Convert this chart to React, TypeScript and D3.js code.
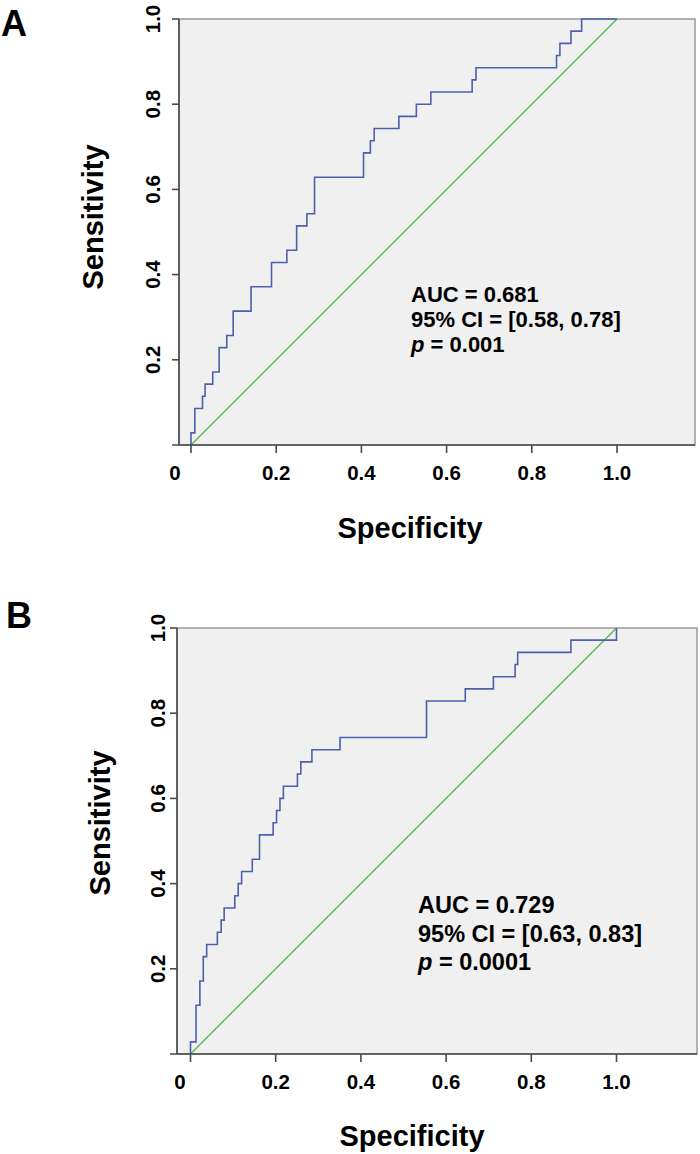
import React from 'react';
import * as d3 from 'd3';

// ---- data ----
const TICK_VALUES = [0, 0.2, 0.4, 0.6, 0.8, 1.0];
const TICK_LABELS = ['0', '0.2', '0.4', '0.6', '0.8', '1.0'];
const N_POSITIVE = 35;

// Panel A: ROC step corners (x = 1 - specificity, y = true positives count out of 35)
const fprA = [0, 0, 0.009, 0.027, 0.033, 0.051, 0.066, 0.084, 0.099, 0.141, 0.189, 0.225, 0.248, 0.272, 0.29, 0.405, 0.421, 0.43, 0.488, 0.529, 0.563, 0.66, 0.669, 0.858, 0.866, 0.892, 0.917, 1.0];
const tpA = [0, 1, 3, 4, 5, 6, 8, 9, 11, 13, 15, 16, 18, 19, 22, 24, 25, 26, 27, 28, 29, 30, 31, 32, 33, 34, 35, 35];
const statsA = ['AUC = 0.681', '95% CI = [0.58, 0.78]', '0.001'];

// Panel B
const fprB = [0, 0, 0.013, 0.022, 0.03, 0.038, 0.063, 0.072, 0.079, 0.104, 0.112, 0.12, 0.145, 0.162, 0.194, 0.202, 0.21, 0.218, 0.251, 0.259, 0.285, 0.351, 0.554, 0.645, 0.711, 0.762, 0.768, 0.893, 1.0, 1.0];
const tpB = [0, 1, 4, 6, 8, 9, 10, 11, 12, 13, 14, 15, 16, 18, 19, 20, 21, 22, 23, 24, 25, 26, 29, 30, 31, 32, 33, 34, 34, 35];
const statsB = ['AUC = 0.729', '95% CI = [0.63, 0.83]', '0.0001'];

const X_TITLE = 'Specificity';
const Y_TITLE = 'Sensitivity';

const FONT = '"Liberation Sans", Arial, Helvetica, sans-serif';
const BLUE = '#4e60ac';
const GREEN = '#55b955';

type Layout = {
  left: number; right: number; top: number; bottom: number;
  x0: number; x1: number;
  label: string; labelX: number; labelY: number; labelSize: number;
  statX: number; statY: number; statGap: number; statSize: number;
  yTitleX: number; yTitleY: number; xTitleX: number;
  yTickX: number; xTickY: number; xTitleY: number; zeroX: number;
};

function Panel({ fpr, tp, stats, L }: { fpr: number[]; tp: number[]; stats: string[]; L: Layout }) {
  const x = d3.scaleLinear().domain([0, 1]).range([L.x0, L.x1]);
  const y = d3.scaleLinear().domain([0, 1]).range([L.bottom, L.top]);
  const pts: [number, number][] = fpr.map((f, i) => [f, tp[i] / N_POSITIVE]);
  const line = d3.line<[number, number]>()
    .x(d => x(d[0]))
    .y(d => y(d[1]))
    .curve(d3.curveStepAfter);
  const diag = d3.line<[number, number]>().x(d => x(d[0])).y(d => y(d[1]));
  const axisColor = '#4a4a4a';
  return (
    <g>
      <text x={L.labelX} y={L.labelY} fontFamily={FONT} fontWeight="bold" fontSize={L.labelSize} fill="#000">{L.label}</text>
      <rect x={L.left} y={L.top} width={L.right - L.left} height={L.bottom - L.top} fill="#f0f0f0" stroke="#8a8a8a" strokeWidth={1.3} />
      <clipPath id={'clip' + L.label}>
        <rect x={L.left} y={L.top - 1} width={L.right - L.left} height={L.bottom - L.top + 1} />
      </clipPath>
      <g clipPath={`url(#clip${L.label})`}>
        <path d={diag([[0, 0], [1, 1]]) || ''} fill="none" stroke={GREEN} strokeWidth={1.4} />
        <path d={line(pts) || ''} fill="none" stroke={BLUE} strokeWidth={1.6} />
      </g>
      {/* axes */}
      <line x1={L.left} x2={L.left} y1={L.top} y2={L.bottom} stroke={axisColor} strokeWidth={1.6} />
      <line x1={L.left - 7} x2={L.right} y1={L.bottom} y2={L.bottom} stroke={axisColor} strokeWidth={1.6} />
      {TICK_VALUES.filter(v => v > 0).map(v => (
        <line key={'yt' + v} x1={L.left - 7} x2={L.left} y1={y(v)} y2={y(v)} stroke={axisColor} strokeWidth={1.6} />
      ))}
      {TICK_VALUES.map(v => (
        <line key={'xt' + v} x1={x(v)} x2={x(v)} y1={L.bottom} y2={L.bottom + 8} stroke={axisColor} strokeWidth={1.6} />
      ))}
      {TICK_VALUES.map((v, i) => v > 0 ? (
        <text key={'yl' + v} transform={`translate(${L.yTickX},${y(v)}) rotate(-90)`} textAnchor="middle"
          fontFamily={FONT} fontWeight="bold" fontSize={20.5} fill="#000">{TICK_LABELS[i]}</text>
      ) : null)}
      {TICK_VALUES.map((v, i) => (
        <text key={'xl' + v} x={v === 0 ? L.zeroX : x(v)} y={L.xTickY} textAnchor="middle"
          fontFamily={FONT} fontWeight="bold" fontSize={20.5} fill="#000">{TICK_LABELS[i]}</text>
      ))}
      <text x={L.xTitleX} y={L.xTitleY} textAnchor="middle" fontFamily={FONT} fontWeight="bold" fontSize={29} fill="#000">{X_TITLE}</text>
      <text transform={`translate(${L.yTitleX},${L.yTitleY}) rotate(-90)`} textAnchor="middle" fontFamily={FONT} fontWeight="bold" fontSize={29} fill="#000">{Y_TITLE}</text>
      <g fontFamily={FONT} fontWeight="bold" fontSize={L.statSize} fill="#000">
        <text x={L.statX} y={L.statY}>{stats[0]}</text>
        <text x={L.statX} y={L.statY + L.statGap}>{stats[1]}</text>
        <text x={L.statX} y={L.statY + 2 * L.statGap}><tspan fontStyle="italic">p</tspan> = {stats[2]}</text>
      </g>
    </g>
  );
}

const layoutA: Layout = {
  left: 179, right: 695, top: 19, bottom: 445, x0: 191, x1: 617,
  label: 'A', labelX: 1, labelY: 36, labelSize: 36,
  statX: 411, statY: 302, statGap: 25, statSize: 22,
  yTitleX: 103, yTitleY: 217, xTitleX: 410, yTickX: 160, xTickY: 480, xTitleY: 538, zeroX: 175,
};
const layoutB: Layout = {
  left: 177, right: 697, top: 628, bottom: 1054, x0: 190.5, x1: 616.5,
  label: 'B', labelX: 6, labelY: 628, labelSize: 36,
  statX: 418, statY: 913, statGap: 28.5, statSize: 23.5,
  yTitleX: 110, yTitleY: 823, xTitleX: 412, yTickX: 165, xTickY: 1089, xTitleY: 1146, zeroX: 180,
};

export default function App() {
  return (
    <svg width={700} height={1154} style={{ position: 'absolute', left: 0, top: 0, background: '#fff' }}>
      <rect x={0} y={0} width={700} height={1154} fill="#fff" />
      <Panel fpr={fprA} tp={tpA} stats={statsA} L={layoutA} />
      <Panel fpr={fprB} tp={tpB} stats={statsB} L={layoutB} />
    </svg>
  );
}
